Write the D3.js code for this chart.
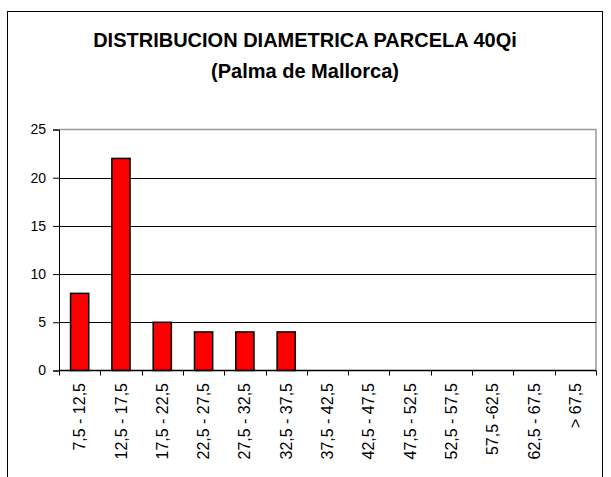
<!DOCTYPE html>
<html>
<head>
<meta charset="utf-8">
<script src="https://cdn.jsdelivr.net/npm/d3@7"></script>
<style>
  body { margin: 0; background: #fff; }
  svg { font-family: "Liberation Sans", Arial, sans-serif; }
</style>
</head>
<body>
<svg id="chart" width="611" height="477"></svg>
<script>
// ============
// DATA
// ============
const categories = ["7,5 - 12,5", "12,5 - 17,5", "17,5 - 22,5", "22,5 - 27,5", "27,5 - 32,5",
  "32,5 - 37,5", "37,5 - 42,5", "42,5 - 47,5", "47,5 - 52,5", "52,5 - 57,5",
  "57,5 -62,5", "62,5 - 67,5", "> 67,5"];
const counts = [8, 22, 5, 4, 4, 4, 0, 0, 0, 0, 0, 0, 0];
const yTicks = [0, 5, 10, 15, 20, 25];
const titleLines = ["DISTRIBUCION DIAMETRICA PARCELA 40Qi", "(Palma de Mallorca)"];

const svg = d3.select("#chart");
const plotLeft = 59, plotRight = 596, plotTop = 129.5, plotBottom = 370.5;

// outer chart border
svg.append("rect")
  .attr("x", 7.5).attr("y", 11.5)
  .attr("width", 595).attr("height", 480)
  .attr("fill", "#fff").attr("stroke", "#000").attr("stroke-width", 1);

// title
svg.append("g").selectAll("text")
  .data(titleLines)
  .enter().append("text")
    .attr("x", 305)
    .attr("y", (d, i) => 47 + i * 30.5)
    .attr("text-anchor", "middle")
    .attr("font-size", 20)
    .attr("font-weight", "bold")
    .text(d => d);

// scales
const x = d3.scaleBand().domain(categories).range([plotLeft, plotRight]).paddingInner(0.56).paddingOuter(0.28);
const xEdges = d3.scaleBand().domain(categories).range([plotLeft, plotRight]);
const y = d3.scaleLinear().domain([0, 25]).range([plotBottom, plotTop]);

// plot area frame (gray top/right)
svg.append("path")
  .attr("d", `M${plotLeft},${plotTop}H${plotRight}V${plotBottom}`)
  .attr("fill", "none").attr("stroke", "#999").attr("stroke-width", 1.5);

// gridlines
svg.append("g")
  .selectAll("line")
  .data(yTicks.filter(d => d > 0 && d < 25))
  .enter().append("line")
    .attr("x1", plotLeft).attr("x2", plotRight)
    .attr("y1", d => Math.round(y(d)) + 0.5).attr("y2", d => Math.round(y(d)) + 0.5)
    .attr("stroke", "#000").attr("stroke-width", 1);

// bars
svg.append("g")
  .selectAll("rect")
  .data(counts)
  .enter().append("rect")
    .attr("x", (d, i) => x(categories[i]))
    .attr("y", d => y(d))
    .attr("width", x.bandwidth())
    .attr("height", d => y(0) - y(d))
    .attr("fill", "#ff0000")
    .attr("stroke", "#000")
    .attr("stroke-width", d => d > 0 ? 1.5 : 0);

// y axis
const yAxis = svg.append("g")
  .attr("transform", `translate(${plotLeft},0)`)
  .call(d3.axisLeft(y).tickValues(yTicks).tickSize(6).tickPadding(7));
yAxis.attr("font-size", null).attr("font-family", null);
yAxis.select(".domain").attr("stroke", "#000");
yAxis.selectAll("text").style("font-size", "14px").attr("fill", "#000");

// x axis: ticks at band edges
const xAxis = svg.append("g");
xAxis.append("line")
  .attr("x1", plotLeft).attr("x2", plotRight)
  .attr("y1", plotBottom).attr("y2", plotBottom)
  .attr("stroke", "#000").attr("stroke-width", 1.5);
xAxis.selectAll("line.tick")
  .data(categories.concat(["end"]))
  .enter().append("line")
    .attr("class", "tick")
    .attr("x1", (d, i) => Math.round(plotLeft + i * xEdges.step()) + 0.5)
    .attr("x2", (d, i) => Math.round(plotLeft + i * xEdges.step()) + 0.5)
    .attr("y1", plotBottom).attr("y2", plotBottom + 5)
    .attr("stroke", "#000");

xAxis.selectAll("text")
  .data(categories)
  .enter().append("text")
    .attr("transform", d => `translate(${xEdges(d) + xEdges.bandwidth() / 2},383)rotate(-90)`)
    .attr("dy", "0.35em")
    .attr("text-anchor", "end")
    .attr("font-size", 16)
    .text(d => d);
</script>
</body>
</html>
